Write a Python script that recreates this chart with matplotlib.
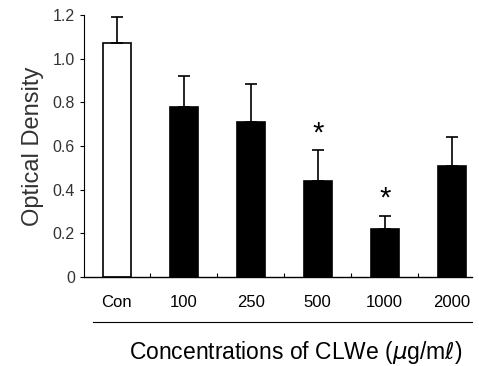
import matplotlib
matplotlib.use("Agg")
import matplotlib.pyplot as plt
from matplotlib.lines import Line2D
import numpy as np

plt.rcParams['font.family'] = ['Liberation Sans', 'DejaVu Sans']

# data
categories = ['Con', '100', '250', '500', '1000', '2000']
od_mean = [1.07, 0.78, 0.71, 0.44, 0.22, 0.51]
od_err = [0.12, 0.14, 0.175, 0.14, 0.06, 0.13]
significant = [False, False, False, True, True, False]
bar_colors = ['white', 'black', 'black', 'black', 'black', 'black']

fig = plt.figure(figsize=(4.79, 3.66), dpi=100)
ax = fig.add_axes([0.175, 0.243, 0.81, 0.716])

x = np.arange(len(categories))
ax.bar(x, od_mean, width=0.42, color=bar_colors, edgecolor='black', linewidth=1.2,
       yerr=[np.zeros(len(od_err)), od_err], capsize=4,
       error_kw=dict(elinewidth=1.2, capthick=1.2, ecolor='black'))

for xi, m, e, s in zip(x, od_mean, od_err, significant):
    if s:
        ax.text(xi, m + e + 0.015, '*', ha='center', va='bottom', fontsize=21)

ax.set_xlim(-0.49, 5.3)
ax.set_ylim(0, 1.2)
ax.set_yticks([0, 0.2, 0.4, 0.6, 0.8, 1.0, 1.2])
ax.set_yticklabels(['0', '0.2', '0.4', '0.6', '0.8', '1.0', '1.2'])
ax.set_xticks(x)
ax.set_xticklabels(categories)
ax.set_xticks(x[:-1] + 0.5, minor=True)
ax.tick_params(axis='x', which='major', length=0, pad=13, labelsize=12)
ax.tick_params(axis='x', which='minor', direction='in', length=3, width=0.8)
ax.tick_params(axis='y', direction='out', length=3, width=0.8, labelsize=11.5,
               labelcolor='#333333')

for side in ['top', 'right']:
    ax.spines[side].set_visible(False)
ax.spines['left'].set_linewidth(0.8)
ax.spines['bottom'].set_linewidth(1.0)

ax.set_ylabel('Optical Density', fontsize=17, color='#333333', labelpad=6)

# rule under the tick labels
fig.add_artist(Line2D([0.194, 0.985], [0.12, 0.12], color='black', linewidth=0.8))
fig.text(0.617, 0.036, 'Concentrations of CLWe ($\\mu$g/m$\\ell$)', ha='center',
         va='center', fontsize=16.5)

fig.savefig('out.png', dpi=100)
